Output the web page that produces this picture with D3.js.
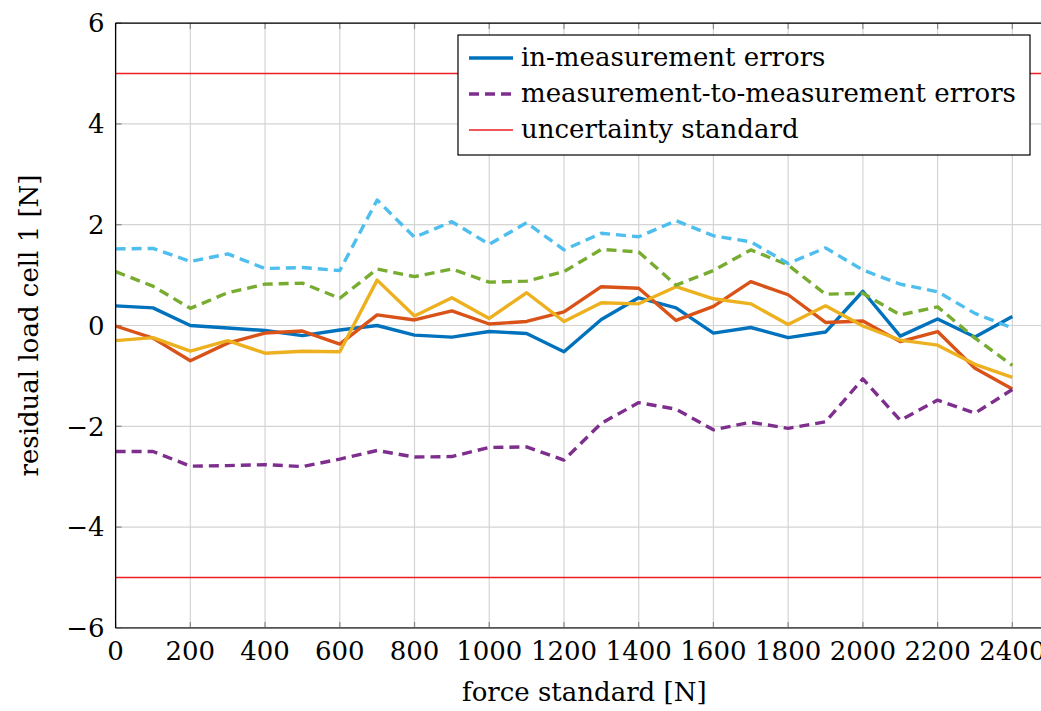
<!DOCTYPE html>
<html>
<head>
<meta charset="utf-8">
<script src="https://cdn.jsdelivr.net/npm/d3@7"></script>
<style>
  body { margin: 0; background: #fff; }
  text { font-family: "DejaVu Serif", "Liberation Serif", serif; fill: #000; }
</style>
</head>
<body>
<svg id="chart" width="1041" height="711"></svg>
<script>
// force standard steps [N]
const force = d3.range(0, 2401, 100);

// solid series (in-measurement errors)
const inBlue = [0.39, 0.35, 0.0, -0.05, -0.1, -0.2, -0.09, 0.0, -0.19, -0.23, -0.12, -0.16, -0.52,
  0.12, 0.55, 0.35, -0.15, -0.04, -0.24, -0.13, 0.68, -0.21, 0.13, -0.23, 0.18];
const inOrange = [-0.01, -0.25, -0.70, -0.35, -0.15, -0.11, -0.37, 0.21, 0.11, 0.29, 0.03, 0.08, 0.27,
  0.77, 0.74, 0.10, 0.38, 0.87, 0.61, 0.06, 0.09, -0.32, -0.12, -0.85, -1.26];
const inYellow = [-0.30, -0.24, -0.51, -0.30, -0.55, -0.51, -0.52, 0.90, 0.19, 0.55, 0.14, 0.65, 0.08,
  0.45, 0.43, 0.77, 0.53, 0.43, 0.02, 0.39, -0.01, -0.29, -0.39, -0.77, -1.03];

// dashed series (measurement-to-measurement errors)
const m2mPurple = [-2.50, -2.50, -2.79, -2.78, -2.76, -2.80, -2.65, -2.48, -2.61, -2.60, -2.42, -2.41, -2.67,
  -1.94, -1.53, -1.66, -2.07, -1.92, -2.04, -1.91, -1.06, -1.88, -1.48, -1.74, -1.27];
const m2mGreen = [1.07, 0.78, 0.34, 0.65, 0.82, 0.84, 0.54, 1.12, 0.97, 1.12, 0.86, 0.88, 1.07,
  1.51, 1.46, 0.80, 1.09, 1.50, 1.20, 0.62, 0.64, 0.21, 0.37, -0.25, -0.79];
const m2mCyan = [1.52, 1.53, 1.27, 1.42, 1.13, 1.15, 1.09, 2.49, 1.75, 2.06, 1.61, 2.04, 1.50,
  1.83, 1.76, 2.08, 1.78, 1.66, 1.23, 1.54, 1.10, 0.82, 0.67, 0.24, -0.05];

const limits = [5, -5];
const xTicks = d3.range(0, 2401, 200);
const yTicks = [-6, -4, -2, 0, 2, 4, 6];
const legendLabels = ["in-measurement errors", "measurement-to-measurement errors", "uncertainty standard"];

const series = [
  { values: inBlue, color: "#0072BD", dash: null },
  { values: inOrange, color: "#D95319", dash: null },
  { values: inYellow, color: "#EDB120", dash: null },
  { values: m2mPurple, color: "#7E2F8E", dash: "10,6" },
  { values: m2mGreen, color: "#77AC30", dash: "10,6" },
  { values: m2mCyan, color: "#4DBEEE", dash: "10,6" }
];

const svg = d3.select("#chart");
const plotLeft = 115.6, plotTop = 23.1, plotBottom = 627.9;
const x = d3.scaleLinear().domain([0, 2480]).range([plotLeft, plotLeft + 2480 * 0.37364]);
const y = d3.scaleLinear().domain([-6, 6]).range([plotBottom, plotTop]);
const plotRight = x(2480);

// grid
svg.append("g").selectAll("line").data(xTicks).join("line")
  .attr("x1", d => x(d)).attr("x2", d => x(d)).attr("y1", plotTop).attr("y2", plotBottom)
  .attr("stroke", "#d4d4d4").attr("stroke-width", 1.2);
svg.append("g").selectAll("line").data(yTicks).join("line")
  .attr("x1", plotLeft).attr("x2", plotRight).attr("y1", d => y(d)).attr("y2", d => y(d))
  .attr("stroke", "#d4d4d4").attr("stroke-width", 1.2);

// small tick marks inside the frame
const tickLen = 6;
const tk = svg.append("g").attr("stroke", "#888").attr("stroke-width", 1.2);
xTicks.forEach(d => {
  tk.append("line").attr("x1", x(d)).attr("x2", x(d)).attr("y1", plotBottom).attr("y2", plotBottom - tickLen);
  tk.append("line").attr("x1", x(d)).attr("x2", x(d)).attr("y1", plotTop).attr("y2", plotTop + tickLen);
});
yTicks.forEach(d => {
  tk.append("line").attr("x1", plotLeft).attr("x2", plotLeft + tickLen).attr("y1", y(d)).attr("y2", y(d));
});

// uncertainty standard
svg.append("g").selectAll("line").data(limits).join("line")
  .attr("x1", plotLeft).attr("x2", plotRight).attr("y1", d => y(d)).attr("y2", d => y(d))
  .attr("stroke", "#EE1C25").attr("stroke-width", 1.6);

// data lines
const line = d3.line().x((d, i) => x(force[i])).y(d => y(d));
svg.append("g").selectAll("path").data(series).join("path")
  .attr("fill", "none")
  .attr("stroke", d => d.color)
  .attr("stroke-width", 3.4)
  .attr("stroke-linejoin", "round")
  .attr("stroke-dasharray", d => d.dash)
  .attr("d", d => line(d.values));

// frame
svg.append("line").attr("x1", plotLeft).attr("x2", plotRight).attr("y1", plotTop).attr("y2", plotTop)
  .attr("stroke", "#000").attr("stroke-width", 1.3);
svg.append("line").attr("x1", plotLeft).attr("x2", plotRight).attr("y1", plotBottom).attr("y2", plotBottom)
  .attr("stroke", "#555").attr("stroke-width", 1.6);
svg.append("line").attr("x1", plotLeft).attr("x2", plotLeft).attr("y1", plotTop).attr("y2", plotBottom)
  .attr("stroke", "#000").attr("stroke-width", 1.3);

// tick labels
const fmt = d => d < 0 ? "\u2212" + Math.abs(d) : String(d);
svg.append("g").selectAll("text").data(yTicks).join("text")
  .attr("x", plotLeft - 11).attr("y", d => y(d)).attr("dy", "0.36em")
  .attr("text-anchor", "end").attr("font-size", 26).text(fmt);
svg.append("g").selectAll("text").data(xTicks).join("text")
  .attr("x", d => x(d)).attr("y", 660)
  .attr("text-anchor", "middle").attr("font-size", 26).text(fmt);

// axis labels
svg.append("text").attr("x", (plotLeft + 1041) / 2 + 6).attr("y", 701)
  .attr("text-anchor", "middle").attr("font-size", 26).text("force standard [N]");
svg.append("text").attr("transform", `translate(38,${(plotTop + plotBottom) / 2}) rotate(-90)`)
  .attr("text-anchor", "middle").attr("font-size", 26).text("residual load cell 1 [N]");

// legend
const lg = svg.append("g").attr("transform", "translate(458,35)");
lg.append("rect").attr("width", 572).attr("height", 120)
  .attr("fill", "#fff").attr("stroke", "#000").attr("stroke-width", 1.2);
const legendStyles = [
  { color: "#0072BD", dash: null, w: 3.4 },
  { color: "#7E2F8E", dash: "10,6", w: 3.4 },
  { color: "#EE1C25", dash: null, w: 1.3 }
];
legendLabels.forEach((lab, i) => {
  const cy = 23 + i * 36;
  lg.append("line").attr("x1", 11).attr("x2", 55).attr("y1", cy).attr("y2", cy)
    .attr("stroke", legendStyles[i].color).attr("stroke-width", legendStyles[i].w)
    .attr("stroke-dasharray", legendStyles[i].dash);
  lg.append("text").attr("x", 63).attr("y", cy).attr("dy", "0.32em")
    .attr("font-size", 26).text(lab);
});
</script>
</body>
</html>
